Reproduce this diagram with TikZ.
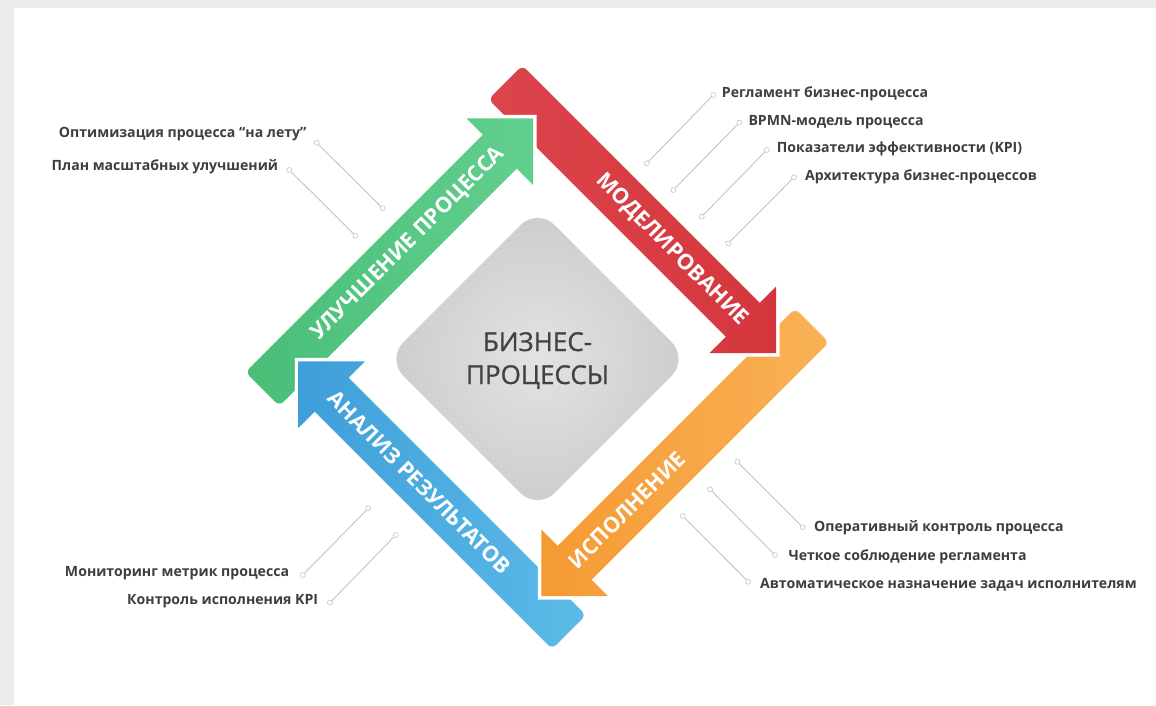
\documentclass[tikz,border=0pt]{standalone}
\usepackage{fontspec}
\setmainfont{Open Sans}
\newfontfamily\titlefont[FakeBold=0.9]{Open Sans}
\definecolor{notegray}{HTML}{3E3E3E}
\definecolor{leadergray}{HTML}{C4C4C4}
\definecolor{stripgray}{HTML}{EBEBEB}
\definecolor{greenA}{HTML}{48BE77}
\definecolor{greenB}{HTML}{62CF8F}
\definecolor{redA}{HTML}{DC444B}
\definecolor{redB}{HTML}{D5363D}
\definecolor{orangeA}{HTML}{F59A33}
\definecolor{orangeB}{HTML}{F9B257}
\definecolor{blueA}{HTML}{3E9ED9}
\definecolor{blueB}{HTML}{5DBBE8}
\begin{document}
\begin{tikzpicture}[x=1pt,y=-1pt,
  note/.style={font=\bfseries\fontsize{14.1}{17}\selectfont, text=notegray, inner sep=0pt},
  stagelabel/.style={font=\bfseries\fontsize{21.5}{24}\selectfont, text=white, inner sep=0pt},
  leader/.style={draw=leadergray, line width=0.9pt},
  leaderend/.style={circle, draw=leadergray, fill=white, line width=0.6pt, minimum size=5pt, inner sep=0pt},
  pics/procarrow/.style 2 args={code={
    \path[preaction={draw=white, line width=7pt, line join=miter}, left color=#1, right color=#2]
      (0,24) [rounded corners=6pt] -- (-45,24) -- (-45,-24) -- (0,-24) [sharp corners]
      -- (290.7,-24) -- (290.7,-47) -- (337.7,0) -- (290.7,47) -- (290.7,24) -- cycle;
  }}
]
% canvas and side strips
\useasboundingbox (0,0) rectangle (1156,705);
\fill[white] (0,0) rectangle (1156,705);
\fill[stripgray] (0,0) rectangle (1156,8);
\fill[stripgray] (0,0) rectangle (14,705);

% central rounded diamond
\path[rounded corners=24pt, inner color=black!11, outer color=black!20]
  (537.5,208) -- (688.5,359) -- (537.5,510) -- (386.5,359) -- cycle;

% the four stage arrows; each head lies over the next tail
\pic at (294.25,357.25) [rotate=45] {procarrow={greenA}{greenB}};
\pic at (537.25,600.25) [rotate=135] {procarrow={blueA}{blueB}};
\pic at (780.25,357.25) [rotate=-135] {procarrow={orangeA}{orangeB}};
\pic at (537.25,114.25) [rotate=-45] {procarrow={redA}{redB}};
\begin{scope}
  \clip (537.25,114.25) circle (85);
  \pic at (294.25,357.25) [rotate=45] {procarrow={greenA}{greenB}};
\end{scope}

% stage captions
\node[stagelabel, rotate=45]  (capG) at (408.3,243.7) {УЛУЧШЕНИЕ ПРОЦЕССА};
\node[stagelabel, rotate=-45] (capR) at (671.7,250)   {МОДЕЛИРОВАНИЕ};
\node[stagelabel, rotate=45]  (capO) at (627,510)     {ИСПОЛНЕНИЕ};
\node[stagelabel, rotate=-45] (capB) at (419.4,482.3) {АНАЛИЗ РЕЗУЛЬТАТОВ};

% centre title
\node[font=\titlefont\fontsize{26}{33}\selectfont, text=black!74, align=center, inner sep=0pt]
  (title) at (537.5,360.5) {БИЗНЕС-\\ПРОЦЕССЫ};

% modelling notes (top right)
\node[note, anchor=mid west] (r1) at (721.7,95)    {Регламент бизнес-процесса};
\node[note, anchor=mid west] (r2) at (748.3,122.7) {BPMN-модель процесса};
\node[note, anchor=mid west] (r3) at (776.7,150)   {Показатели эффективности (KPI)};
\node[note, anchor=mid west] (r4) at (805,178.3)   {Архитектура бизнес-процессов};
\node[leaderend] (r1a) at (713.3,95)    {};
\node[leaderend] (r1b) at (646.7,163.3) {};
\node[leaderend] (r2a) at (739.3,122.7) {};
\node[leaderend] (r2b) at (673.3,190)   {};
\node[leaderend] (r3a) at (766.7,150)   {};
\node[leaderend] (r3b) at (701.7,216.7) {};
\node[leaderend] (r4a) at (794,177.3)   {};
\node[leaderend] (r4b) at (728.3,243.3) {};
\draw[leader] (r1a) -- (r1b);
\draw[leader] (r2a) -- (r2b);
\draw[leader] (r3a) -- (r3b);
\draw[leader] (r4a) -- (r4b);

% improvement notes (top left)
\node[note, anchor=mid east] (l1) at (306.7,135)   {Оптимизация процесса “на лету”};
\node[note, anchor=mid east] (l2) at (278.3,168.3) {План масштабных улучшений};
\node[leaderend] (l1a) at (316.7,142.7) {};
\node[leaderend] (l1b) at (382.7,208.3) {};
\node[leaderend] (l2a) at (289.3,170)   {};
\node[leaderend] (l2b) at (355.3,235.7) {};
\draw[leader] (l1a) -- (l1b);
\draw[leader] (l2a) -- (l2b);

% execution notes (bottom right)
\node[note, anchor=mid west] (e1) at (814,529.3)   {Оперативный контроль процесса};
\node[note, anchor=mid west] (e2) at (788.3,558.3) {Четкое соблюдение регламента};
\node[note, anchor=mid west] (e3) at (760,586)     {Автоматическое назначение задач исполнителям};
\node[leaderend] (e1a) at (802.7,527.3) {};
\node[leaderend] (e1b) at (737.3,461.7) {};
\node[leaderend] (e2a) at (775,555)     {};
\node[leaderend] (e2b) at (710,489.3)   {};
\node[leaderend] (e3a) at (748.3,581.7) {};
\node[leaderend] (e3b) at (682.7,516)   {};
\draw[leader] (e1a) -- (e1b);
\draw[leader] (e2a) -- (e2b);
\draw[leader] (e3a) -- (e3b);

% analysis notes (bottom left)
\node[note, anchor=mid east] (m1) at (289.3,574)   {Мониторинг метрик процесса};
\node[note, anchor=mid east] (m2) at (318.3,601.7) {Контроль исполнения KPI};
\node[leaderend] (m1a) at (302.7,575)   {};
\node[leaderend] (m1b) at (368.3,508.3) {};
\node[leaderend] (m2a) at (330,602.7)   {};
\node[leaderend] (m2b) at (395.7,535)   {};
\draw[leader] (m1a) -- (m1b);
\draw[leader] (m2a) -- (m2b);
\end{tikzpicture}
\end{document}
